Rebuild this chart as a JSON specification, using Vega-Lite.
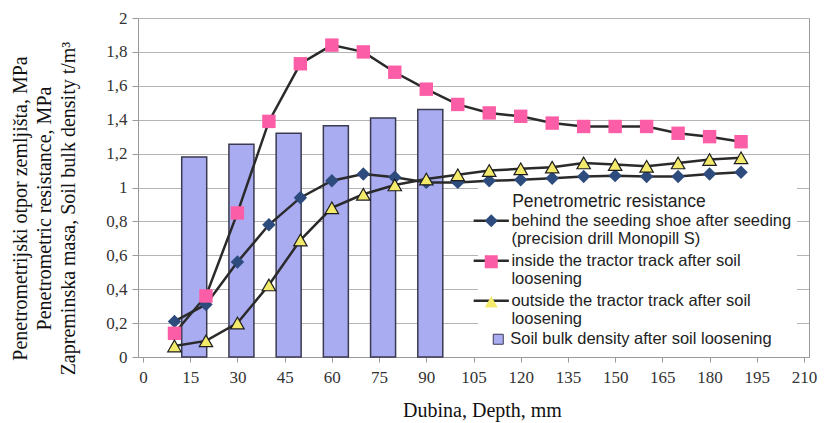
{
  "$schema": "https://vega.github.io/schema/vega-lite/v6.json",
  "width": 671,
  "height": 339,
  "autosize": {"type": "none"},
  "padding": {"left": 138, "top": 18, "right": 15, "bottom": 66},
  "background": "white",
  "config": {
    "view": {"stroke": null},
    "axis": {"labelFlush": false, "labelOverlap": false}
  },
  "datasets": {
    "pts": [
      {"depth": 10, "key": "blue", "series": "behind the seeding shoe after seeding|(precision drill Monopill S)", "value": 0.21},
      {"depth": 20, "key": "blue", "series": "behind the seeding shoe after seeding|(precision drill Monopill S)", "value": 0.31},
      {"depth": 30, "key": "blue", "series": "behind the seeding shoe after seeding|(precision drill Monopill S)", "value": 0.56},
      {"depth": 40, "key": "blue", "series": "behind the seeding shoe after seeding|(precision drill Monopill S)", "value": 0.78},
      {"depth": 50, "key": "blue", "series": "behind the seeding shoe after seeding|(precision drill Monopill S)", "value": 0.94},
      {"depth": 60, "key": "blue", "series": "behind the seeding shoe after seeding|(precision drill Monopill S)", "value": 1.04},
      {"depth": 70, "key": "blue", "series": "behind the seeding shoe after seeding|(precision drill Monopill S)", "value": 1.08},
      {"depth": 80, "key": "blue", "series": "behind the seeding shoe after seeding|(precision drill Monopill S)", "value": 1.06},
      {"depth": 90, "key": "blue", "series": "behind the seeding shoe after seeding|(precision drill Monopill S)", "value": 1.03},
      {"depth": 100, "key": "blue", "series": "behind the seeding shoe after seeding|(precision drill Monopill S)", "value": 1.03},
      {"depth": 110, "key": "blue", "series": "behind the seeding shoe after seeding|(precision drill Monopill S)", "value": 1.04},
      {"depth": 120, "key": "blue", "series": "behind the seeding shoe after seeding|(precision drill Monopill S)", "value": 1.045},
      {"depth": 130, "key": "blue", "series": "behind the seeding shoe after seeding|(precision drill Monopill S)", "value": 1.055},
      {"depth": 140, "key": "blue", "series": "behind the seeding shoe after seeding|(precision drill Monopill S)", "value": 1.065},
      {"depth": 150, "key": "blue", "series": "behind the seeding shoe after seeding|(precision drill Monopill S)", "value": 1.07},
      {"depth": 160, "key": "blue", "series": "behind the seeding shoe after seeding|(precision drill Monopill S)", "value": 1.065},
      {"depth": 170, "key": "blue", "series": "behind the seeding shoe after seeding|(precision drill Monopill S)", "value": 1.065},
      {"depth": 180, "key": "blue", "series": "behind the seeding shoe after seeding|(precision drill Monopill S)", "value": 1.08},
      {"depth": 190, "key": "blue", "series": "behind the seeding shoe after seeding|(precision drill Monopill S)", "value": 1.09},
      {"depth": 10, "key": "pink", "series": "inside the tractor track after soil|loosening", "value": 0.14},
      {"depth": 20, "key": "pink", "series": "inside the tractor track after soil|loosening", "value": 0.36},
      {"depth": 30, "key": "pink", "series": "inside the tractor track after soil|loosening", "value": 0.85},
      {"depth": 40, "key": "pink", "series": "inside the tractor track after soil|loosening", "value": 1.39},
      {"depth": 50, "key": "pink", "series": "inside the tractor track after soil|loosening", "value": 1.73},
      {"depth": 60, "key": "pink", "series": "inside the tractor track after soil|loosening", "value": 1.84},
      {"depth": 70, "key": "pink", "series": "inside the tractor track after soil|loosening", "value": 1.8},
      {"depth": 80, "key": "pink", "series": "inside the tractor track after soil|loosening", "value": 1.68},
      {"depth": 90, "key": "pink", "series": "inside the tractor track after soil|loosening", "value": 1.58},
      {"depth": 100, "key": "pink", "series": "inside the tractor track after soil|loosening", "value": 1.49},
      {"depth": 110, "key": "pink", "series": "inside the tractor track after soil|loosening", "value": 1.44},
      {"depth": 120, "key": "pink", "series": "inside the tractor track after soil|loosening", "value": 1.42},
      {"depth": 130, "key": "pink", "series": "inside the tractor track after soil|loosening", "value": 1.38},
      {"depth": 140, "key": "pink", "series": "inside the tractor track after soil|loosening", "value": 1.36},
      {"depth": 150, "key": "pink", "series": "inside the tractor track after soil|loosening", "value": 1.36},
      {"depth": 160, "key": "pink", "series": "inside the tractor track after soil|loosening", "value": 1.36},
      {"depth": 170, "key": "pink", "series": "inside the tractor track after soil|loosening", "value": 1.32},
      {"depth": 180, "key": "pink", "series": "inside the tractor track after soil|loosening", "value": 1.3},
      {"depth": 190, "key": "pink", "series": "inside the tractor track after soil|loosening", "value": 1.27},
      {"depth": 10, "key": "yellow", "series": "outside the tractor track after soil|loosening", "value": 0.065},
      {"depth": 20, "key": "yellow", "series": "outside the tractor track after soil|loosening", "value": 0.095},
      {"depth": 30, "key": "yellow", "series": "outside the tractor track after soil|loosening", "value": 0.2},
      {"depth": 40, "key": "yellow", "series": "outside the tractor track after soil|loosening", "value": 0.425},
      {"depth": 50, "key": "yellow", "series": "outside the tractor track after soil|loosening", "value": 0.69},
      {"depth": 60, "key": "yellow", "series": "outside the tractor track after soil|loosening", "value": 0.88},
      {"depth": 70, "key": "yellow", "series": "outside the tractor track after soil|loosening", "value": 0.96},
      {"depth": 80, "key": "yellow", "series": "outside the tractor track after soil|loosening", "value": 1.015},
      {"depth": 90, "key": "yellow", "series": "outside the tractor track after soil|loosening", "value": 1.05},
      {"depth": 100, "key": "yellow", "series": "outside the tractor track after soil|loosening", "value": 1.075},
      {"depth": 110, "key": "yellow", "series": "outside the tractor track after soil|loosening", "value": 1.1},
      {"depth": 120, "key": "yellow", "series": "outside the tractor track after soil|loosening", "value": 1.11},
      {"depth": 130, "key": "yellow", "series": "outside the tractor track after soil|loosening", "value": 1.12},
      {"depth": 140, "key": "yellow", "series": "outside the tractor track after soil|loosening", "value": 1.145},
      {"depth": 150, "key": "yellow", "series": "outside the tractor track after soil|loosening", "value": 1.135},
      {"depth": 160, "key": "yellow", "series": "outside the tractor track after soil|loosening", "value": 1.125},
      {"depth": 170, "key": "yellow", "series": "outside the tractor track after soil|loosening", "value": 1.145},
      {"depth": 180, "key": "yellow", "series": "outside the tractor track after soil|loosening", "value": 1.165},
      {"depth": 190, "key": "yellow", "series": "outside the tractor track after soil|loosening", "value": 1.175}
    ],
    "bars": [
      {"depth": 15, "series": "Soil bulk density after soil loosening", "value": 1.18},
      {"depth": 30, "series": "Soil bulk density after soil loosening", "value": 1.255},
      {"depth": 45, "series": "Soil bulk density after soil loosening", "value": 1.32},
      {"depth": 60, "series": "Soil bulk density after soil loosening", "value": 1.365},
      {"depth": 75, "series": "Soil bulk density after soil loosening", "value": 1.41},
      {"depth": 90, "series": "Soil bulk density after soil loosening", "value": 1.46}
    ]
  },
  "resolve": {"axis": {"y": "independent"}},
  "layer": [
    {
      "data": {"name": "bars"},
      "mark": {"type": "bar", "width": 25, "xOffset": 4, "stroke": "#3a3a50", "strokeWidth": 1.5},
      "encoding": {
        "x": {
          "field": "depth", "type": "quantitative",
          "scale": {"domain": [0, 210], "nice": false},
          "axis": {
            "values": [0, 15, 30, 45, 60, 75, 90, 105, 120, 135, 150, 165, 180, 195, 210],
            "grid": false,
            "domainColor": "#9a9a9a", "tickColor": "#9a9a9a", "tickSize": 5,
            "labelFont": "Liberation Serif", "labelFontSize": 17, "labelColor": "#333333", "labelPadding": 7,
            "title": "Dubina, Depth, mm",
            "titleFont": "Liberation Serif", "titleFontSize": 20, "titleFontWeight": "normal", "titleColor": "#111111",
            "titleX": 344, "titleY": 43, "titleBaseline": "top", "titleAlign": "center"
          }
        },
        "y": {
          "field": "value", "type": "quantitative",
          "scale": {"domain": [0, 2], "nice": false},
          "axis": {
            "orient": "left",
            "values": [0, 0.2, 0.4, 0.6, 0.8, 1, 1.2, 1.4, 1.6, 1.8, 2],
            "format": ".1~f",
            "labelExpr": "replace(datum.label, '.', ',')",
            "grid": true, "gridColor": "#b4b4b4",
            "domainColor": "#9a9a9a", "tickColor": "#9a9a9a", "tickSize": 6,
            "labelFont": "Liberation Serif", "labelFontSize": 17, "labelColor": "#333333", "labelPadding": 5,
            "title": ["Penetrometrijski otpor zemljišta, MPa", "Penetrometric resistance, MPa", "Zapreminska masa, Soil bulk density t/m³"],
            "titleFont": "Liberation Serif", "titleFontSize": 20, "titleFontWeight": "normal", "titleColor": "#111111",
            "titleLineHeight": 24,
            "titleX": -118, "titleY": 190, "titleAngle": -90, "titleAlign": "center", "titleBaseline": "middle"
          }
        },
        "color": {
          "field": "series", "type": "nominal",
          "scale": {"domain": ["Soil bulk density after soil loosening"], "range": ["#aaacf2"]},
          "legend": {
            "orient": "none", "legendX": 347, "legendY": 308,
            "title": null,
            "symbolType": "square", "symbolSize": 100, "symbolStrokeColor": "#3a3a50", "symbolStrokeWidth": 1,
            "labelFont": "Liberation Sans", "labelFontSize": 16.5, "labelColor": "#222222", "labelLimit": 400,
            "labelOffset": 3.75,
            "padding": 5, "zindex": 3
          }
        }
      }
    },
    {
      "data": {"name": "pts"},
      "mark": {"type": "line", "strokeWidth": 2.5},
      "encoding": {
        "x": {"field": "depth", "type": "quantitative"},
        "y": {
          "field": "value", "type": "quantitative",
          "axis": {"orient": "right", "labels": false, "ticks": false, "grid": false, "title": null, "domainColor": "#9a9a9a"}
        },
        "stroke": {
          "field": "series", "type": "nominal",
          "scale": {
            "domain": ["behind the seeding shoe after seeding|(precision drill Monopill S)", "inside the tractor track after soil|loosening", "outside the tractor track after soil|loosening"],
            "range": ["#2a2a2a", "#2a2a2a", "#2a2a2a"]
          },
          "legend": {
            "orient": "none", "legendX": 340, "legendY": 169.5,
            "title": "\u200b\u00a0\u00a0\u00a0\u00a0\u00a0\u00a0Penetrometric resistance",
            "titleFont": "Liberation Sans", "titleFontSize": 17.5, "titleFontWeight": "normal", "titleColor": "#222222", "titlePadding": 2.5, "titleLimit": 400,
            "symbolType": "M-2.7,0H2.7", "symbolSize": 170, "symbolStrokeWidth": 2.5,
            "labelFont": "Liberation Sans", "labelFontSize": 16.5, "labelColor": "#222222", "labelLimit": 400,
            "labelExpr": "split(datum.label, '|')",
            "labelOffset": 11.9,
            "rowPadding": 4,
            "fillColor": "white", "padding": 5, "zindex": 1
          }
        }
      }
    },
    {
      "data": {"name": "pts"},
      "mark": {"type": "point", "filled": true, "size": 180, "opacity": 1},
      "encoding": {
        "x": {"field": "depth", "type": "quantitative"},
        "y": {"field": "value", "type": "quantitative", "axis": null},
        "fill": {
          "field": "key", "type": "nominal",
          "scale": {"domain": ["blue", "pink", "yellow"], "range": ["#2d4b7d", "#fb5ea6", "#f3ea6c"]},
          "legend": {
            "orient": "none", "legendX": 340, "legendY": 169.5,
            "title": "\u200b\u00a0\u00a0\u00a0\u00a0\u00a0\u00a0Penetrometric resistance",
            "titleFont": "Liberation Sans", "titleFontSize": 17.5, "titleFontWeight": "normal", "titleColor": "transparent", "titlePadding": 2.5, "titleLimit": 400,
            "symbolSize": 170, "symbolStrokeWidth": 1, "symbolStrokeColor": "#1e1e1e",
            "labelFont": "Liberation Sans", "labelFontSize": 16.5, "labelColor": "transparent", "labelLimit": 400,
            "labelExpr": "['.', '.']",
            "labelOffset": -27.1,
            "rowPadding": 4,
            "padding": 5, "zindex": 2
          }
        },
        "shape": {
          "field": "key", "type": "nominal",
          "scale": {"domain": ["blue", "pink", "yellow"], "range": ["diamond", "square", "triangle-up"]}
        },
        "stroke": {
          "condition": {"test": "datum.key === 'yellow'", "value": "#1e1e1e"},
          "value": "transparent"
        },
        "strokeWidth": {"value": 1.2}
      }
    }
  ]
}
